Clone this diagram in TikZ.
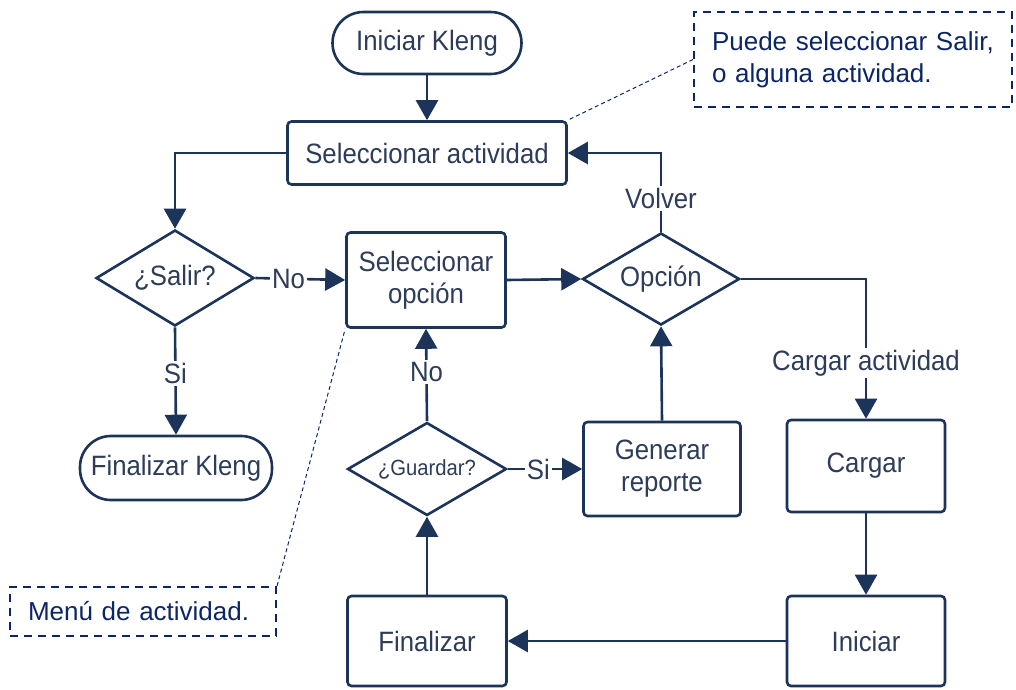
\documentclass[tikz,border=0pt]{standalone}
\usepackage{fontspec}
\setmainfont{Liberation Sans}
\newfontfamily\flowfont[FakeStretch=0.92]{Liberation Sans}
\usetikzlibrary{shapes.geometric,arrows.meta}
\definecolor{ink}{RGB}{28,52,90}
\definecolor{inktext}{RGB}{45,60,88}
\definecolor{notecol}{RGB}{10,38,102}

\tikzset{
  base/.style={font=\flowfont\fontsize{28}{32}\selectfont, text=inktext, align=center, inner sep=0pt},
  proc/.style={base, draw=ink, line width=2.6pt, rounded corners=4pt},
  term/.style={base, draw=ink, line width=2.6pt, rounded corners=31pt},
  decision/.style={base, draw=ink, line width=2.6pt, diamond, aspect=1.7},
  flow/.style={draw=ink, line width=2.6pt, -{Triangle[length=20pt,width=22pt]}},
  lbl/.style={base, fill=white, inner sep=2pt},
  notebox/.style={draw=notecol, line width=2pt, dash pattern=on 8pt off 6pt,
    font=\fontsize{26}{32}\selectfont, text=notecol, align=left, inner ysep=0pt, inner xsep=18pt},
  leader/.style={draw=notecol, line width=1pt, dash pattern=on 4pt off 3pt}
}

\begin{document}
\begin{tikzpicture}[x=1pt,y=-1pt]
\useasboundingbox (0,0) rectangle (1016,689);

% process steps
\node[term, minimum width=189pt, minimum height=62pt] (start) at (427,43) {Iniciar Kleng};
\node[proc, minimum width=279pt, minimum height=63pt] (selact) at (427,153) {Seleccionar actividad};
\node[decision, minimum width=158pt, minimum height=96pt] (salir) at (175,278) {¿Salir?};
\node[term, minimum width=192pt, minimum height=64pt] (finkleng) at (176,468) {Finalizar Kleng};
\node[proc, minimum width=159pt, minimum height=95pt] (selop) at (426,280) {Seleccionar\\opción};
\node[decision, minimum width=157pt, minimum height=92pt] (opcion) at (661,279) {Opción};
\node[decision, minimum width=159pt, minimum height=93pt, font=\flowfont\fontsize{22}{26}\selectfont] (guardar) at (427,469) {¿Guardar?};
\node[proc, minimum width=157pt, minimum height=94pt] (genrep) at (662,469) {Generar\\reporte};
\node[proc, minimum width=158pt, minimum height=92pt] (cargar) at (866,466) {Cargar};
\node[proc, minimum width=158pt, minimum height=90pt] (iniciar) at (866,641) {Iniciar};
\node[proc, minimum width=159pt, minimum height=90pt] (finalizar) at (427,641) {Finalizar};

% connectors
\draw[flow] (start) -- (selact);
\draw[flow] (selact.west) -| (salir.north);
\draw[flow] (salir.east) -- node[lbl, pos=0.37] {No} (selop.west);
\draw[flow] (salir.south) -- node[lbl, pos=0.43] {Si} (finkleng.north);
\draw[flow] (selop.east) -- (opcion.west);
\draw[flow] (opcion.north) |- node[lbl, pos=0.21] {Volver} (selact.east);
\draw[flow] (opcion.east) -| node[lbl, pos=0.8] {Cargar actividad} (cargar.north);
\draw[flow] (cargar) -- (iniciar);
\draw[flow] (iniciar) -- (finalizar);
\draw[flow] (finalizar) -- (guardar);
\draw[flow] (guardar.north) -- node[lbl, pos=0.53] {No} (selop.south);
\draw[flow] (guardar.east) -- node[lbl, pos=0.41] {Si} (genrep.west);
\draw[flow] (genrep.north) -- (opcion.south);

% annotations
\node[notebox, minimum width=318pt, minimum height=95pt, text width=282pt] (note1) at (853,59.5)
  {Puede seleccionar Salir,\\o alguna actividad.};
\node[notebox, minimum width=266pt, minimum height=49pt, text width=230pt] (note2) at (143,611.5)
  {Menú de actividad.};
\draw[leader] (note1.west) -- (selact.north east);
\draw[leader] (note2.north east) -- (selop.south west);
\end{tikzpicture}
\end{document}
